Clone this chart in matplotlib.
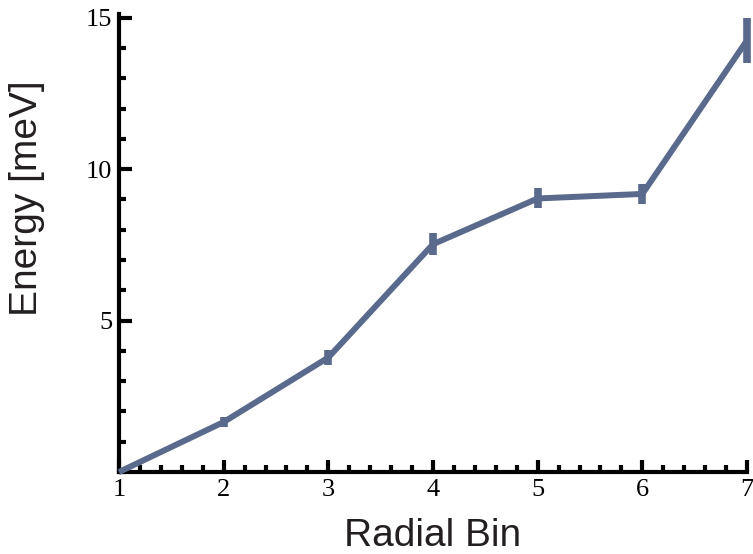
import matplotlib
matplotlib.use("Agg")
import matplotlib.pyplot as plt
from matplotlib.ticker import MultipleLocator

radial_bin = [1, 2, 3, 4, 5, 6, 7]
energy = [0.0, 1.65, 3.78, 7.52, 9.03, 9.18, 14.25]
energy_err = [0.0, 0.18, 0.25, 0.36, 0.33, 0.33, 0.75]

color = "#5A6A8D"

fig = plt.figure(figsize=(7.53, 5.54), dpi=100)
ax = fig.add_axes([119/753, 1 - 472/554, (747-119)/753, (472-14)/554])

ax.plot(radial_bin, energy, color=color, lw=4.3, solid_capstyle="butt",
        solid_joinstyle="round", clip_on=False, zorder=3)
ax.errorbar(radial_bin, energy, yerr=energy_err, fmt="none", ecolor=color,
            elinewidth=5.5, capsize=0, clip_on=False, zorder=3)

ax.set_xlim(1, 7)
ax.set_ylim(0, 15.12)

for s in ["top", "right"]:
    ax.spines[s].set_visible(False)
for s in ["left", "bottom"]:
    ax.spines[s].set_linewidth(3)
    ax.spines[s].set_color("black")

ax.xaxis.set_major_locator(MultipleLocator(1))
ax.xaxis.set_minor_locator(MultipleLocator(0.2))
ax.yaxis.set_major_locator(MultipleLocator(5))
ax.yaxis.set_minor_locator(MultipleLocator(1))

ax.tick_params(axis="both", which="major", direction="in", length=9, width=3,
               labelsize=19, pad=5)
ax.tick_params(axis="both", which="minor", direction="in", length=5, width=3)

ax.set_yticks([5, 10, 15])
ax.set_xticks([1, 2, 3, 4, 5, 6, 7])
for lab in ax.get_xticklabels() + ax.get_yticklabels():
    lab.set_fontfamily("Liberation Serif")

ax.set_xlabel("Radial Bin", fontsize=28, family="Liberation Sans", color="#231F20", labelpad=12)
ax.set_ylabel("Energy [meV]", fontsize=28, family="Liberation Sans", color="#231F20")
ax.yaxis.set_label_coords(-0.118, 0.598)

fig.savefig("out.png", dpi=100)
